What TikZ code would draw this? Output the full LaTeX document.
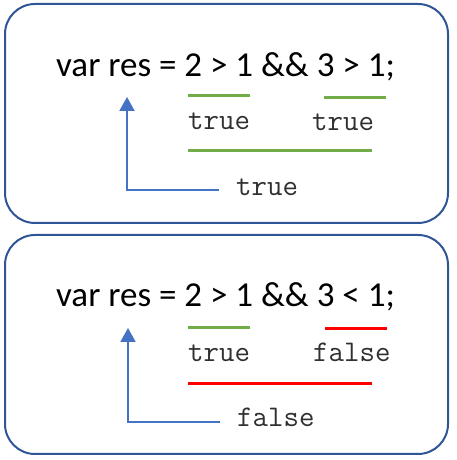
\documentclass[tikz,border=0pt]{standalone}
\usepackage{fontspec}
\setmainfont{Carlito}
\usetikzlibrary{arrows.meta}
\definecolor{boxblue}{HTML}{2F5597}
\definecolor{arrowblue}{HTML}{4472C4}
\definecolor{okgreen}{HTML}{70AD47}
\definecolor{badred}{HTML}{FF0000}
\definecolor{codegray}{HTML}{303030}
\tikzset{
  panel/.style={draw=boxblue, line width=2pt, rounded corners=30pt, minimum width=443pt, minimum height=219pt, inner sep=0pt},
  expr/.style={font=\fontsize{35}{40}\selectfont, anchor=base, inner sep=0pt},
  val/.style={font=\ttfamily\fontsize{30}{32}\selectfont, text=codegray, anchor=base west, inner sep=0pt},
  uline/.style={line width=3pt},
  back/.style={draw=arrowblue, line width=2pt, -{Triangle[width=15pt,length=14pt]}}
}
\begin{document}
\begin{tikzpicture}[x=1pt,y=1pt]
\useasboundingbox (0,0) rectangle (456,460);
% top panel
\node[panel] (box1) at (226.5,346.5) {};
\node[expr] (e1) at (225.5,383) {var res = 2 > 1 \&\& 3 > 1;};
\coordinate (g1a) at (188,364); \coordinate (g1b) at (250,364);
\coordinate (g2a) at (324,362); \coordinate (g2b) at (386,362);
\draw[uline, okgreen] (g1a) -- (g1b);
\draw[uline, okgreen] (g2a) -- (g2b);
\node[val] (t1) at (188,330) {true};
\node[val] (t2) at (312,329) {true};
\coordinate (l1a) at (188,309); \coordinate (l1b) at (372,309);
\draw[uline, okgreen] (l1a) -- (l1b);
\node[val] (r1) at (236,264) {true};
\coordinate (a1s) at (219,270); \coordinate (a1t) at (127,363);
\draw[back] (a1s) -| (a1t);
% bottom panel
\node[panel] (box2) at (226.5,115.5) {};
\node[expr] (e2) at (225.5,153) {var res = 2 > 1 \&\& 3 < 1;};
\coordinate (g3a) at (188,132); \coordinate (g3b) at (250,132);
\coordinate (g4a) at (325,131); \coordinate (g4b) at (387,131);
\draw[uline, okgreen] (g3a) -- (g3b);
\draw[uline, badred] (g4a) -- (g4b);
\node[val] (t3) at (188,98) {true};
\node[val] (t4) at (313,98) {false};
\coordinate (l2a) at (188,76); \coordinate (l2b) at (372,76);
\draw[uline, badred] (l2a) -- (l2b);
\node[val] (r2) at (237,33) {false};
\coordinate (a2s) at (220,38); \coordinate (a2t) at (128,132);
\draw[back] (a2s) -| (a2t);
\end{tikzpicture}
\end{document}
